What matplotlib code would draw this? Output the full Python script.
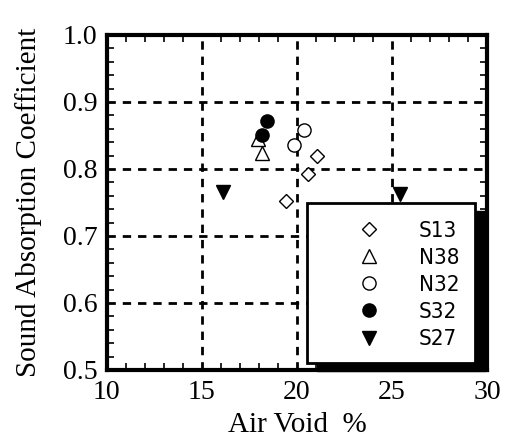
import matplotlib
matplotlib.use("Agg")
import matplotlib.pyplot as plt
from matplotlib.patches import Rectangle
from matplotlib.ticker import MultipleLocator

# data
s13_x = [19.4, 20.6, 21.05]
s13_y = [0.752, 0.792, 0.820]
n38_x = [17.95, 18.15]
n38_y = [0.845, 0.824]
n32_x = [19.85, 20.35]
n32_y = [0.835, 0.858]
s32_x = [18.4, 18.15]
s32_y = [0.872, 0.850]
s27_x = [16.1, 25.4]
s27_y = [0.765, 0.763]

plt.rcParams["font.family"] = ["Liberation Serif", "DejaVu Serif"]
narrow = ["Liberation Sans Narrow", "DejaVu Sans"]

fig = plt.figure(figsize=(5.09, 4.42), dpi=100)
ax = fig.add_axes([0.210, 0.163, 0.747, 0.758])

ms = 9.5
ax.plot(s13_x, s13_y, "D", ms=ms * 0.8, mfc="white", mec="black", mew=1.0, label="S13", zorder=3)
ax.plot(n38_x, n38_y, "^", ms=ms, mfc="white", mec="black", mew=1.0, label="N38", zorder=3)
ax.plot(n32_x, n32_y, "o", ms=ms, mfc="white", mec="black", mew=1.0, label="N32", zorder=3)
ax.plot(s32_x, s32_y, "o", ms=ms, mfc="black", mec="black", label="S32", zorder=3)
ax.plot(s27_x, s27_y, "v", ms=ms, mfc="black", mec="black", label="S27", zorder=3)

ax.set_xlim(10, 30)
ax.set_ylim(0.5, 1.0)
ax.xaxis.set_major_locator(MultipleLocator(5))
ax.xaxis.set_minor_locator(MultipleLocator(1))
ax.yaxis.set_major_locator(MultipleLocator(0.1))
ax.yaxis.set_minor_locator(MultipleLocator(0.02))
ax.tick_params(which="both", direction="in", top=True, right=True, width=1.2, color="black")
ax.tick_params(which="major", length=0, labelsize=20, pad=7)
ax.tick_params(which="minor", length=5)
ax.set_yticks([0.5, 0.6, 0.7, 0.8, 0.9, 1.0], ["0.5", "0.6", "0.7", "0.8", "0.9", "1.0"])
ax.set_xticks([10, 15, 20, 25, 30], ["10", "15", "20", "25", "30"])

ax.grid(which="major", color="black", linestyle=(0, (3, 2.5)), linewidth=2.0)
for sp in ax.spines.values():
    sp.set_linewidth(3)

ax.set_xlabel("Air Void  %", fontsize=21, labelpad=5)
ax.set_ylabel("Sound Absorption Coefficient", fontsize=21, labelpad=15)

# legend box with hard shadow
bx, by, bw, bh = 0.526, 0.021, 0.442, 0.477
ax.add_patch(Rectangle((bx + 0.026, by - 0.024), bw, bh, transform=ax.transAxes,
                       facecolor="black", edgecolor="black", zorder=5, clip_on=False))
ax.add_patch(Rectangle((bx, by), bw, bh, transform=ax.transAxes,
                       facecolor="white", edgecolor="black", linewidth=2, zorder=6, clip_on=False))
leg = ax.legend(loc="upper left", bbox_to_anchor=(bx + 0.105, by + bh - 0.02), frameon=False,
                prop={"family": narrow, "size": 16, "stretch": "condensed"},
                handlelength=1.0, handletextpad=1.75,
                labelspacing=0.32, borderpad=0, numpoints=1)
leg.set_zorder(7)

fig.savefig("out.png", dpi=100)
